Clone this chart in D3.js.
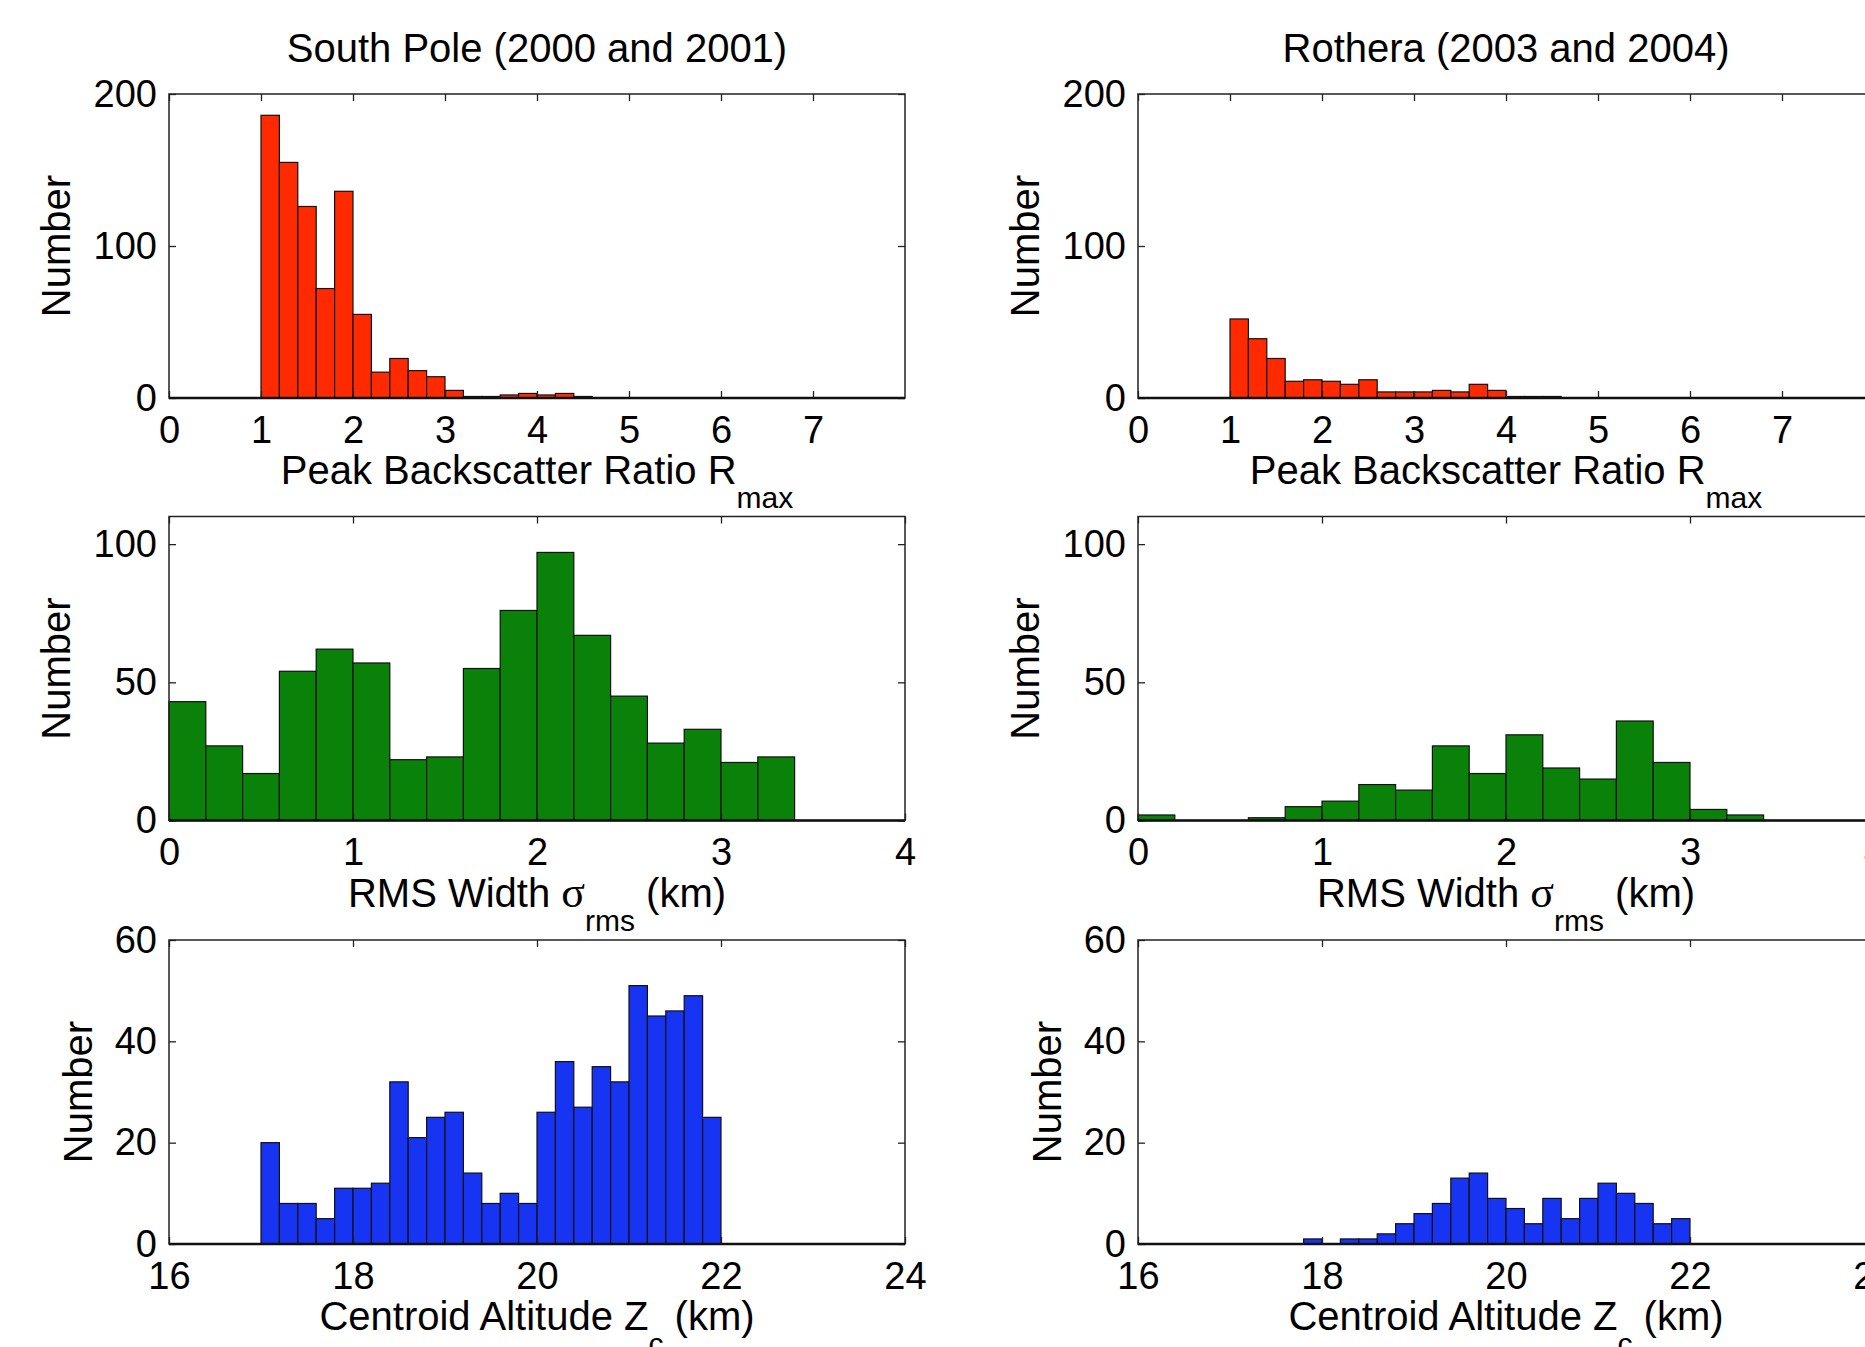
<!DOCTYPE html>
<html>
<head>
<meta charset="utf-8">
<script src="https://cdn.jsdelivr.net/npm/d3@7"></script>
<style>
  html, body { margin: 0; padding: 0; background: #fff; }
  svg { display: block; }
  text { font-family: "Liberation Sans", Arial, Helvetica, sans-serif; fill: #000; }
</style>
</head>
<body>
<svg id="chart" width="1865" height="1347"></svg>
<script>
// ---------------- DATA ----------------
const titles = ["South Pole (2000 and 2001)", "Rothera (2003 and 2004)"];

// Peak backscatter ratio histograms (bin left edges, width 0.2)
const rmaxBins = [1.0,1.2,1.4,1.6,1.8,2.0,2.2,2.4,2.6,2.8,3.0,3.2,3.4,3.6,3.8,4.0,4.2,4.4];
const rmaxSouthPole = [186,155,126,72,136,55,17,26,18,14,5,1,1,2,3,2,3,1];
const rmaxRothera   = [52,39,26,11,12,11,9,12,4,4,4,5,4,9,5,1,1,1];

// RMS width histograms (bin left edges, width 0.2)
const rmsBins = [0.0,0.2,0.4,0.6,0.8,1.0,1.2,1.4,1.6,1.8,2.0,2.2,2.4,2.6,2.8,3.0,3.2];
const rmsSouthPole = [43,27,17,54,62,57,22,23,55,76,97,67,45,28,33,21,23];
const rmsRothera   = [2,0,0,1,5,7,13,11,27,17,31,19,15,36,21,4,2];

// Centroid altitude histograms (bin left edges, width 0.2)
const zcBins = [17.0,17.2,17.4,17.6,17.8,18.0,18.2,18.4,18.6,18.8,19.0,19.2,19.4,19.6,19.8,
                20.0,20.2,20.4,20.6,20.8,21.0,21.2,21.4,21.6,21.8];
const zcSouthPole = [20,8,8,5,11,11,12,32,21,25,26,14,8,10,8,26,36,27,35,32,51,45,46,49,25];
const zcRothera   = [0,0,0,0,1,0,1,1,2,4,6,8,13,14,9,7,4,9,5,9,12,10,8,4,5];

const binWidth = 0.2;

// Axis ticks
const rmaxXTicks = [0,1,2,3,4,5,6,7];
const rmaxYTicks = [0,100,200];
const rmsXTicks  = [0,1,2,3,4];
const rmsYTicks  = [0,50,100];
const zcXTicks   = [16,18,20,22,24];
const zcYTicks   = [0,20,40,60];

// ---------------- LAYOUT ----------------
const svg = d3.select("#chart");
const colLeft = [169, 1138];
const panelW = 736;
const panelH = 304;
const rowTop = [94, 516.5, 940];
const tickLen = 7;
const fs = 38;
const lfs = 40;

const rows = [
  { bins: rmaxBins, series: [rmaxSouthPole, rmaxRothera], xDom: [0, 8], yDom: [0, 200],
    xTicks: rmaxXTicks, yTicks: rmaxYTicks, color: "#ff2a00",
    label: [{t: "Peak Backscatter Ratio R"}, {t: "max", sub: true}], ylabOff: 99 },
  { bins: rmsBins, series: [rmsSouthPole, rmsRothera], xDom: [0, 4], yDom: [0, 110],
    xTicks: rmsXTicks, yTicks: rmsYTicks, color: "#0a820a",
    label: [{t: "RMS Width "}, {t: "σ", serif: true}, {t: "rms", sub: true}, {t: " (km)", back: true}], ylabOff: 99 },
  { bins: zcBins, series: [zcSouthPole, zcRothera], xDom: [16, 24], yDom: [0, 60],
    xTicks: zcXTicks, yTicks: zcYTicks, color: "#1634f2",
    label: [{t: "Centroid Altitude Z"}, {t: "c", sub: true}, {t: " (km)", back: true}], ylabOff: 77 }
];

rows.forEach((row, r) => {
  [0, 1].forEach(c => {
    const x0 = colLeft[c], y0 = rowTop[r];
    const g = svg.append("g").attr("transform", `translate(${x0},${y0})`);
    const x = d3.scaleLinear().domain(row.xDom).range([0, panelW]);
    const y = d3.scaleLinear().domain(row.yDom).range([panelH, 0]);
    const vals = row.series[c];
    const data = row.bins.map((b, i) => ({ b, v: vals[i] })).filter(d => d.v > 0);

    // bars
    g.selectAll("rect.bar").data(data).enter().append("rect")
      .attr("class", "bar")
      .attr("x", d => x(d.b))
      .attr("width", d => x(d.b + binWidth) - x(d.b))
      .attr("y", d => y(d.v))
      .attr("height", d => y(0) - y(d.v))
      .attr("fill", row.color)
      .attr("stroke", "#111")
      .attr("stroke-width", 1.2);

    // axes (inward ticks on all four sides)
    const styleAxis = sel => {
      sel.select(".domain").remove();
      sel.selectAll(".tick line").attr("stroke", "#222").attr("stroke-width", 1.3);
      sel.selectAll(".tick text").attr("font-size", fs)
        .attr("font-family", '"Liberation Sans", Arial, Helvetica, sans-serif').attr("fill", "#000");
    };
    g.append("g").attr("transform", `translate(0,${panelH})`)
      .call(d3.axisBottom(x).tickValues(row.xTicks).tickSize(-tickLen).tickPadding(18).tickFormat(d3.format("d")))
      .call(styleAxis);
    g.append("g")
      .call(d3.axisTop(x).tickValues(row.xTicks).tickSize(-tickLen).tickFormat(""))
      .call(styleAxis);
    g.append("g")
      .call(d3.axisLeft(y).tickValues(row.yTicks).tickSize(-tickLen).tickPadding(12).tickFormat(d3.format("d")))
      .call(styleAxis);
    g.append("g").attr("transform", `translate(${panelW},0)`)
      .call(d3.axisRight(y).tickValues(row.yTicks).tickSize(-tickLen).tickFormat(""))
      .call(styleAxis);

    // frame
    g.append("rect").attr("x", 0).attr("y", 0).attr("width", panelW).attr("height", panelH)
      .attr("fill", "none").attr("stroke", "#222").attr("stroke-width", 1.5);
    g.append("line").attr("x1", 0).attr("x2", panelW).attr("y1", panelH).attr("y2", panelH)
      .attr("stroke", "#111").attr("stroke-width", 2.5);

    // x label
    const xl = g.append("text")
      .attr("x", panelW / 2).attr("y", panelH + 86)
      .attr("text-anchor", "middle").attr("font-size", lfs);
    row.label.forEach(p => {
      const ts = xl.append("tspan").text(p.t);
      if (p.serif) ts.attr("font-family", '"Liberation Serif", "Times New Roman", serif').attr("font-size", 44);
      if (p.sub) ts.attr("font-size", 30).attr("dy", 24);
      if (p.back) ts.attr("dy", -24);
    });

    // y label
    g.append("text")
      .attr("transform", `translate(${-row.ylabOff},${panelH / 2}) rotate(-90)`)
      .attr("text-anchor", "middle").attr("font-size", lfs)
      .text("Number");

    // title
    if (r === 0) {
      g.append("text").attr("x", panelW / 2).attr("y", -32)
        .attr("text-anchor", "middle").attr("font-size", lfs)
        .text(titles[c]);
    }
  });
});
</script>
</body>
</html>
